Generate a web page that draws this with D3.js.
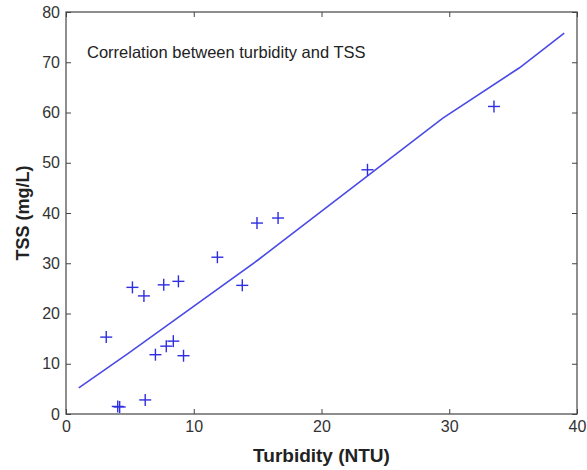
<!DOCTYPE html>
<html><head><meta charset="utf-8">
<script src="https://cdn.jsdelivr.net/npm/d3@7"></script>
<style>body{margin:0;background:#fff;} text{font-family:Arial,"Liberation Sans",sans-serif;}</style>
</head><body><svg id="c" width="587" height="470"></svg>
<script>
const turbidity = [3.15, 4.05, 4.2, 5.2, 6.1, 6.2, 7.0, 7.65, 7.85, 8.4, 8.8, 9.2, 11.85, 13.8, 14.95, 16.6, 23.6, 33.5];
const tss = [15.3, 1.5, 1.4, 25.2, 23.5, 2.8, 11.8, 25.7, 13.5, 14.5, 26.4, 11.6, 31.2, 25.6, 38.0, 39.0, 48.6, 61.2];
const fitX = [1, 4.9, 15, 29.5, 35.5, 39];
const fitY = [5.2, 12.1, 30.6, 58.9, 68.9, 75.8];
const xTicks = [0, 10, 20, 30, 40];
const yTicks = [0, 10, 20, 30, 40, 50, 60, 70, 80];
const title = "Correlation between turbidity and TSS";
const xLabel = "Turbidity (NTU)";
const yLabel = "TSS (mg/L)";

const svg = d3.select("#c");
const L = 66, R = 577, T = 12, B = 414;
const x = d3.scaleLinear().domain([0, 40]).range([L, R]);
const y = d3.scaleLinear().domain([0, 80]).range([B, T]);
const axCol = "#444";

svg.append("rect").attr("x", L).attr("y", T).attr("width", R - L).attr("height", B - T)
  .attr("fill", "none").attr("stroke", axCol).attr("stroke-width", 1.2);

const fmt = d3.format("d");
const gx = svg.append("g").attr("transform", `translate(0,${B})`)
  .call(d3.axisBottom(x).tickValues(xTicks).tickFormat(fmt).tickSizeInner(-5).tickSizeOuter(0).tickPadding(7));
const gxt = svg.append("g").attr("transform", `translate(0,${T})`)
  .call(d3.axisTop(x).tickValues(xTicks).tickFormat("").tickSizeInner(-5).tickSizeOuter(0));
const gy = svg.append("g").attr("transform", `translate(${L},0)`)
  .call(d3.axisLeft(y).tickValues(yTicks).tickFormat(fmt).tickSizeInner(-5).tickSizeOuter(0).tickPadding(6));
const gyr = svg.append("g").attr("transform", `translate(${R},0)`)
  .call(d3.axisRight(y).tickValues(yTicks).tickFormat("").tickSizeInner(-5).tickSizeOuter(0));
[gx, gxt, gy, gyr].forEach(g => {
  g.select(".domain").remove();
  g.selectAll("line").attr("stroke", axCol);
  g.selectAll("text").attr("fill", "#333").style("font-size", "16px").style("font-family", "Arial, 'Liberation Sans', sans-serif");
});

const line = d3.line().x((d, i) => x(fitX[i])).y(d => y(d));
svg.append("path").datum(fitY).attr("d", line).attr("fill", "none")
  .attr("stroke", "#4a4ae6").attr("stroke-width", 1.6);

const m = svg.append("g").attr("stroke", "#2e2ee0").attr("stroke-width", 1.4);
turbidity.forEach((tv, i) => {
  const cx = x(tv), cy = y(tss[i]);
  m.append("line").attr("x1", cx - 6).attr("x2", cx + 6).attr("y1", cy).attr("y2", cy);
  m.append("line").attr("x1", cx).attr("x2", cx).attr("y1", cy - 6).attr("y2", cy + 6);
});

svg.append("text").attr("x", 87).attr("y", 58).attr("fill", "#222").style("font-size", "16.5px").text(title);
svg.append("text").attr("x", (L + R) / 2).attr("y", 462).attr("text-anchor", "middle")
  .attr("fill", "#222").style("font-size", "19px").style("font-weight", "bold").text(xLabel);
svg.append("text").attr("transform", `translate(29,${(T + B) / 2}) rotate(-90)`).attr("text-anchor", "middle")
  .attr("fill", "#222").style("font-size", "18px").style("font-weight", "bold").text(yLabel);
</script></body></html>
